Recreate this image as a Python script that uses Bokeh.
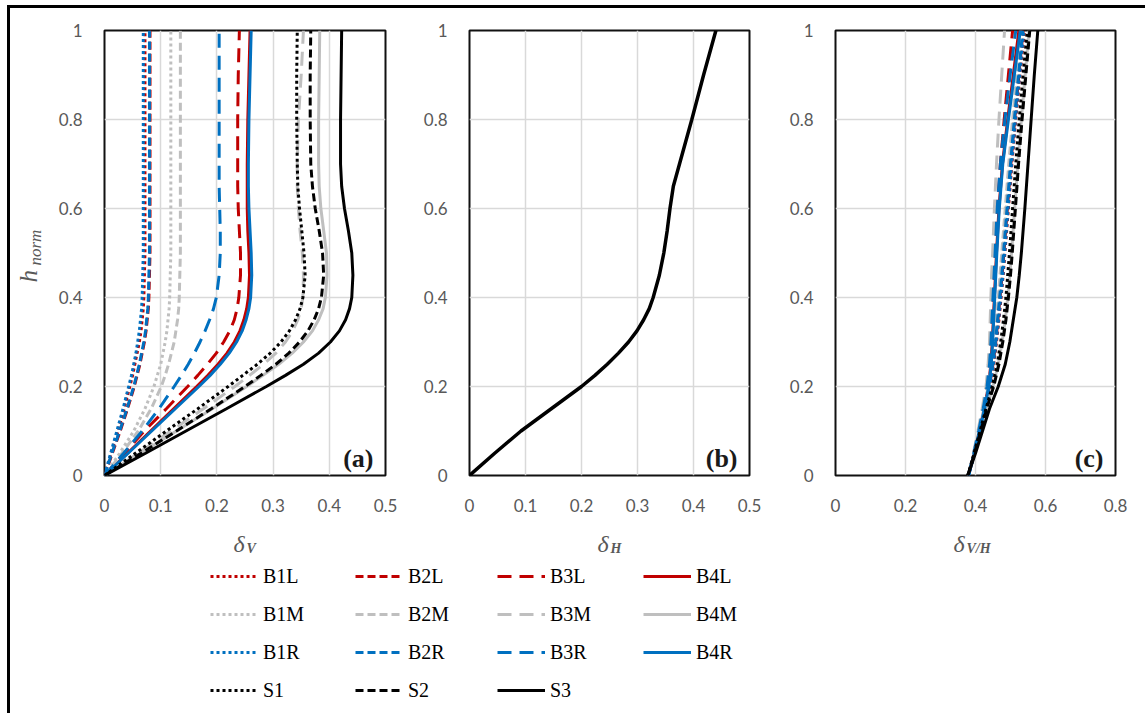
import math
from bokeh.plotting import figure
from bokeh.layouts import row, column
from bokeh.models import (Range1d, FixedTicker, Label, Legend, LegendItem,
                          CustomJSTickFormatter)
from bokeh.embed import file_html
from bokeh.resources import INLINE

# ---------------------------------------------------------------- data
# normalised height for panels (a) and (b)
h_norm = [0, 0.05, 0.1, 0.15, 0.2, 0.225, 0.25, 0.275, 0.3, 0.325, 0.35, 0.375,
          0.4, 0.45, 0.5, 0.55, 0.6, 0.65, 0.7, 0.8, 0.9, 1.0]

# (a) vertical deflection ratio delta_V
dv_b1l = [0, 0.012, 0.024, 0.035, 0.045, 0.050, 0.054, 0.058, 0.062, 0.065, 0.067, 0.069,
          0.070, 0.071, 0.072, 0.072, 0.072, 0.072, 0.072, 0.072, 0.072, 0.072]
dv_b2l = [0, 0.014, 0.028, 0.041, 0.053, 0.058, 0.063, 0.067, 0.071, 0.074, 0.076, 0.078,
          0.079, 0.080, 0.081, 0.081, 0.081, 0.081, 0.081, 0.081, 0.081, 0.081]
dv_b3l = [0, 0.035, 0.071, 0.110, 0.148, 0.166, 0.183, 0.199, 0.212, 0.223, 0.231, 0.236,
          0.239, 0.242, 0.242, 0.240, 0.238, 0.237, 0.237, 0.237, 0.238, 0.240]
dv_b4l = [0, 0.041, 0.082, 0.123, 0.164, 0.184, 0.202, 0.218, 0.231, 0.241, 0.248, 0.253,
          0.256, 0.258, 0.257, 0.255, 0.254, 0.254, 0.254, 0.255, 0.257, 0.259]
dv_b1m = [0, 0.027, 0.052, 0.072, 0.088, 0.094, 0.100, 0.104, 0.108, 0.111, 0.113, 0.115,
          0.116, 0.117, 0.118, 0.118, 0.118, 0.118, 0.118, 0.118, 0.118, 0.118]
dv_b2m = [0, 0.031, 0.060, 0.083, 0.101, 0.108, 0.114, 0.119, 0.124, 0.127, 0.130, 0.132,
          0.133, 0.134, 0.135, 0.135, 0.135, 0.135, 0.135, 0.135, 0.135, 0.135]
dv_b3m = [0, 0.060, 0.118, 0.176, 0.232, 0.258, 0.283, 0.305, 0.322, 0.335, 0.344, 0.350,
          0.353, 0.354, 0.352, 0.348, 0.345, 0.343, 0.343, 0.345, 0.350, 0.354]
dv_b4m = [0, 0.064, 0.128, 0.192, 0.253, 0.282, 0.310, 0.334, 0.354, 0.370, 0.381, 0.389,
          0.393, 0.396, 0.395, 0.390, 0.385, 0.382, 0.381, 0.381, 0.382, 0.383]
dv_b1r = [0, 0.011, 0.022, 0.033, 0.043, 0.048, 0.052, 0.056, 0.059, 0.062, 0.064, 0.066,
          0.067, 0.068, 0.069, 0.069, 0.069, 0.069, 0.069, 0.069, 0.069, 0.069]
dv_b2r = [0, 0.013, 0.027, 0.040, 0.052, 0.057, 0.062, 0.066, 0.070, 0.073, 0.075, 0.077,
          0.078, 0.079, 0.080, 0.080, 0.080, 0.080, 0.080, 0.080, 0.080, 0.080]
dv_b3r = [0, 0.034, 0.067, 0.097, 0.124, 0.137, 0.149, 0.160, 0.170, 0.179, 0.187, 0.194,
          0.199, 0.204, 0.206, 0.206, 0.205, 0.204, 0.204, 0.204, 0.204, 0.204]
dv_b4r = [0, 0.042, 0.084, 0.126, 0.168, 0.188, 0.206, 0.222, 0.235, 0.245, 0.252, 0.257,
          0.260, 0.262, 0.261, 0.259, 0.257, 0.256, 0.256, 0.257, 0.259, 0.261]
dv_s1 = [0, 0.055, 0.110, 0.166, 0.220, 0.246, 0.272, 0.295, 0.314, 0.329, 0.340, 0.348,
         0.353, 0.357, 0.355, 0.351, 0.347, 0.344, 0.343, 0.342, 0.342, 0.343]
dv_s2 = [0, 0.065, 0.128, 0.190, 0.250, 0.278, 0.305, 0.328, 0.347, 0.362, 0.373, 0.381,
         0.386, 0.390, 0.388, 0.382, 0.375, 0.370, 0.367, 0.366, 0.366, 0.367]
dv_s3 = [0, 0.073, 0.145, 0.217, 0.288, 0.322, 0.354, 0.381, 0.402, 0.418, 0.429, 0.436,
         0.440, 0.442, 0.440, 0.434, 0.427, 0.422, 0.420, 0.420, 0.421, 0.422]

# (b) horizontal deflection ratio delta_H
dh = [0, 0.045, 0.092, 0.146, 0.200, 0.224, 0.246, 0.266, 0.284, 0.299, 0.311, 0.321,
      0.328, 0.339, 0.347, 0.353, 0.358, 0.364, 0.375, 0.397, 0.418, 0.440]

# (c) ratio delta_V / delta_H
h_norm_c = [0, 0.05, 0.1, 0.15, 0.2, 0.25, 0.3, 0.35, 0.4, 0.45, 0.5, 0.6, 0.7, 0.8, 0.9, 1.0]
dvh_b1l = [0.380, 0.397, 0.413, 0.428, 0.442, 0.452, 0.460, 0.467, 0.473, 0.479, 0.484, 0.494, 0.504, 0.515, 0.527, 0.540]
dvh_b2l = [0.380, 0.397, 0.412, 0.427, 0.440, 0.450, 0.458, 0.464, 0.470, 0.476, 0.481, 0.491, 0.501, 0.512, 0.524, 0.536]
dvh_b3l = [0.380, 0.395, 0.410, 0.423, 0.434, 0.441, 0.445, 0.448, 0.451, 0.454, 0.457, 0.463, 0.471, 0.482, 0.494, 0.506]
dvh_b4l = [0.380, 0.396, 0.411, 0.425, 0.437, 0.444, 0.448, 0.451, 0.454, 0.457, 0.460, 0.467, 0.477, 0.492, 0.508, 0.524]
dvh_b1m = [0.380, 0.396, 0.411, 0.425, 0.438, 0.448, 0.456, 0.462, 0.468, 0.473, 0.478, 0.488, 0.498, 0.509, 0.521, 0.533]
dvh_b2m = [0.380, 0.396, 0.410, 0.424, 0.436, 0.446, 0.453, 0.459, 0.465, 0.470, 0.475, 0.485, 0.495, 0.506, 0.518, 0.530]
dvh_b3m = [0.380, 0.394, 0.407, 0.419, 0.430, 0.436, 0.440, 0.442, 0.444, 0.446, 0.449, 0.454, 0.460, 0.467, 0.475, 0.483]
dvh_b4m = [0.378, 0.397, 0.414, 0.431, 0.450, 0.465, 0.476, 0.485, 0.492, 0.498, 0.503, 0.512, 0.521, 0.531, 0.542, 0.553]
dvh_b1r = [0.380, 0.397, 0.413, 0.428, 0.441, 0.451, 0.459, 0.466, 0.472, 0.478, 0.483, 0.493, 0.503, 0.514, 0.526, 0.538]
dvh_b2r = [0.380, 0.397, 0.412, 0.426, 0.439, 0.449, 0.457, 0.463, 0.469, 0.475, 0.480, 0.490, 0.500, 0.511, 0.523, 0.535]
dvh_b3r = [0.380, 0.395, 0.409, 0.422, 0.433, 0.440, 0.444, 0.447, 0.450, 0.453, 0.456, 0.462, 0.471, 0.484, 0.499, 0.515]
dvh_b4r = [0.380, 0.397, 0.412, 0.426, 0.438, 0.445, 0.449, 0.452, 0.455, 0.458, 0.461, 0.468, 0.478, 0.494, 0.511, 0.528]
dvh_s1 = [0.378, 0.396, 0.413, 0.430, 0.448, 0.462, 0.472, 0.480, 0.487, 0.492, 0.497, 0.506, 0.515, 0.525, 0.536, 0.548]
dvh_s2 = [0.378, 0.397, 0.415, 0.432, 0.452, 0.467, 0.478, 0.487, 0.494, 0.500, 0.505, 0.514, 0.523, 0.533, 0.544, 0.555]
dvh_s3 = [0.378, 0.400, 0.420, 0.440, 0.465, 0.485, 0.498, 0.508, 0.518, 0.525, 0.531, 0.541, 0.550, 0.559, 0.568, 0.578]

# series order (row-wise, as listed in the legend)
series_names = ["B1L", "B2L", "B3L", "B4L",
                "B1M", "B2M", "B3M", "B4M",
                "B1R", "B2R", "B3R", "B4R",
                "S1", "S2", "S3"]
delta_v = [dv_b1l, dv_b2l, dv_b3l, dv_b4l, dv_b1m, dv_b2m, dv_b3m, dv_b4m,
           dv_b1r, dv_b2r, dv_b3r, dv_b4r, dv_s1, dv_s2, dv_s3]
delta_vh = [dvh_b1l, dvh_b2l, dvh_b3l, dvh_b4l, dvh_b1m, dvh_b2m, dvh_b3m, dvh_b4m,
            dvh_b1r, dvh_b2r, dvh_b3r, dvh_b4r, dvh_s1, dvh_s2, dvh_s3]

h_ticks = [0, 0.2, 0.4, 0.6, 0.8, 1]
x_ticks_ab = [0, 0.1, 0.2, 0.3, 0.4, 0.5]
x_ticks_c = [0, 0.2, 0.4, 0.6, 0.8]

# ---------------------------------------------------------------- styles
COLORS = {"L": "#C00000", "M": "#BFBFBF", "R": "#0070C0"}
DASHES = {"1": "3 3", "2": "8 4", "3": "14 8", "4": "solid"}


def style_of(name):
    if name.startswith("S"):
        return dict(line_color="#000000", line_dash=DASHES[name[1]] if name != "S3" else "solid",
                    line_width=3)
    return dict(line_color=COLORS[name[2]], line_dash=DASHES[name[1]], line_width=3)


TICK_FONT = "Lato"
TEXT_GREY = "#595959"
SERIF = "Liberation Serif"
FRAME_H = 445
TOP, BOTTOM = 22, 50


def make_panel(xmax, xticks, left, right, frame_w):
    p = figure(output_backend="svg", toolbar_location=None,
               frame_width=frame_w, frame_height=FRAME_H,
               min_border_left=left, min_border_right=right,
               min_border_top=TOP, min_border_bottom=BOTTOM,
               x_range=Range1d(0, xmax), y_range=Range1d(0, 1))
    p.xaxis.ticker = FixedTicker(ticks=xticks)
    p.yaxis.ticker = FixedTicker(ticks=h_ticks)
    fmt = CustomJSTickFormatter(code="return String(tick)")
    for ax in (p.xaxis[0], p.yaxis[0]):
        ax.formatter = fmt
        ax.axis_line_color = None
        ax.major_tick_line_color = None
        ax.minor_tick_line_color = None
        ax.major_tick_out = 0
        ax.major_tick_in = 0
        ax.minor_tick_out = 0
        ax.major_label_text_font = TICK_FONT
        ax.major_label_text_font_size = "17px"
        ax.major_label_text_color = TEXT_GREY
    p.xaxis.major_label_standoff = 23
    p.yaxis.major_label_standoff = 22
    p.xgrid.ticker = FixedTicker(ticks=xticks)
    p.ygrid.ticker = FixedTicker(ticks=h_ticks)
    p.grid.grid_line_color = "#D9D9D9"
    p.grid.grid_line_width = 1.5
    p.outline_line_color = "#111111"
    p.outline_line_width = 2
    p.border_fill_color = "white"
    return p


def add_panel_tag(p, frame_w, tag):
    p.add_layout(Label(x=frame_w - 12, y=17, x_units="screen", y_units="screen",
                       text=tag, text_font=SERIF, text_font_style="bold",
                       text_font_size="26px", text_color="#1a1a1a",
                       text_align="right", text_baseline="alphabetic"))


PANEL_H = TOP + FRAME_H + BOTTOM

# y-axis title strip
py = figure(output_backend="svg", toolbar_location=None, width=40, height=PANEL_H,
            min_border=0, x_range=Range1d(0, 1), y_range=Range1d(0, 1),
            x_axis_location=None, y_axis_location=None)
py.grid.visible = False
py.outline_line_color = None
py.add_layout(Label(x=18, y=193, x_units="screen", y_units="screen",
                    text="h", angle=math.pi / 2, text_font=SERIF,
                    text_font_style="italic", text_font_size="25px",
                    text_color=TEXT_GREY, text_baseline="alphabetic", text_align="left"))
py.add_layout(Label(x=25, y=210, x_units="screen", y_units="screen",
                    text="norm", angle=math.pi / 2, text_font=SERIF,
                    text_font_style="italic", text_font_size="17px",
                    text_color=TEXT_GREY, text_baseline="alphabetic", text_align="left"))

# (a) delta_V
pa = make_panel(0.5, x_ticks_ab, 54, 24, 281)
for name, vals in zip(series_names, delta_v):
    pa.line(vals, h_norm, **style_of(name))
add_panel_tag(pa, 281, "(a)")

# (b) delta_H
pb = make_panel(0.5, x_ticks_ab, 60, 26, 280)
pb.line(dh, h_norm, line_color="black", line_width=3.5)
add_panel_tag(pb, 280, "(b)")

# (c) delta_V / delta_H
pc = make_panel(0.8, x_ticks_c, 60, 30, 280)
for name, vals in zip(series_names, delta_vh):
    pc.line(vals, h_norm_c, **style_of(name))
add_panel_tag(pc, 280, "(c)")

# ---------------------------------------------------------------- bottom strip:
# x-axis titles and legend
STRIP_H = 188
pl = figure(output_backend="svg", toolbar_location=None, width=1135, height=STRIP_H,
            min_border=0, x_range=Range1d(-3, -2), y_range=Range1d(-3, -2),
            x_axis_location=None, y_axis_location=None)
pl.grid.visible = False
pl.outline_line_color = None
pl.border_fill_color = "white"

for x_left, sub in [(223, "V"), (587, "H"), (943, "V/H")]:
    pl.add_layout(Label(x=x_left, y=STRIP_H - 18, x_units="screen", y_units="screen",
                        text="δ", text_font=SERIF, text_font_style="italic",
                        text_font_size="24px", text_color=TEXT_GREY,
                        text_baseline="alphabetic", text_align="left"))
    pl.add_layout(Label(x=x_left + 13, y=STRIP_H - 23, x_units="screen", y_units="screen",
                        text=sub, text_font=SERIF, text_font_style="bold italic",
                        text_font_size="14px", text_color=TEXT_GREY,
                        text_baseline="alphabetic", text_align="left"))

# legend renderers (the plotted series again, outside this strip's visible ranges)
legend_renderers = {}
for name, vals in zip(series_names, delta_v):
    legend_renderers[name] = pl.line(vals, h_norm, **style_of(name))

legend_columns = [["B1L", "B1M", "B1R", "S1"],
                  ["B2L", "B2M", "B2R", "S2"],
                  ["B3L", "B3M", "B3R", "S3"],
                  ["B4L", "B4M", "B4R"]]
column_x = [200, 345, 487, 633]
ITEM_H, GAP, LEG_TOP = 24, 14, 39
for names, cx in zip(legend_columns, column_x):
    n = len(names)
    height = n * ITEM_H + (n - 1) * GAP
    leg = Legend(items=[LegendItem(label=nm, renderers=[legend_renderers[nm]]) for nm in names],
                 location=(cx, STRIP_H - LEG_TOP - height), orientation="vertical",
                 glyph_width=48, glyph_height=ITEM_H, label_height=ITEM_H,
                 label_standoff=5, spacing=GAP, padding=0, margin=0,
                 border_line_color=None, background_fill_alpha=0,
                 label_text_font=SERIF, label_text_font_size="20px",
                 label_text_color="black")
    pl.add_layout(leg)

layout = column(row(py, pa, pb, pc), pl,
                styles={"border-left": "3px solid #000", "border-top": "3px solid #000"},
                margin=(5, 0, 0, 7))

with open("out.html", "w") as f:
    f.write(file_html(layout, INLINE))
